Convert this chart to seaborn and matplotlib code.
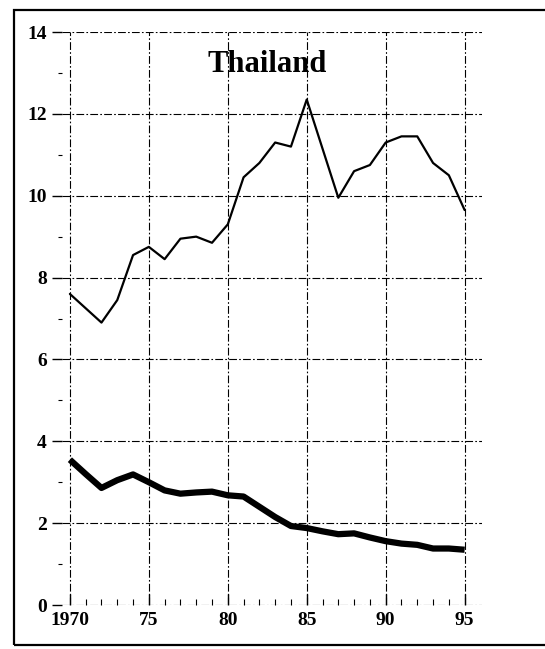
import matplotlib
matplotlib.use("Agg")
import matplotlib.pyplot as plt
import pandas as pd
import seaborn as sns
from matplotlib.patches import Rectangle
from matplotlib.ticker import MultipleLocator, FixedLocator

# data
years = list(range(1970, 1996))
thin_series = [7.6, 7.25, 6.9, 7.45, 8.55, 8.75, 8.45, 8.95, 9.0, 8.85, 9.3, 10.45, 10.8,
               11.3, 11.2, 12.35, 11.15, 9.95, 10.6, 10.75, 11.3, 11.45, 11.45, 10.8, 10.5, 9.65]
thick_series = [3.55, 3.2, 2.86, 3.05, 3.19, 3.0, 2.8, 2.72, 2.75, 2.77, 2.68, 2.65, 2.4,
                2.15, 1.93, 1.88, 1.8, 1.73, 1.75, 1.65, 1.56, 1.5, 1.47, 1.38, 1.38, 1.35]
x_ticks = [1970, 1975, 1980, 1985, 1990, 1995]
x_labels = ["1970", "75", "80", "85", "90", "95"]
y_ticks = [0, 2, 4, 6, 8, 10, 12, 14]
title = "Thailand"

df = pd.DataFrame({"year": years, "thin": thin_series, "thick": thick_series})

sns.set_style("white", {"text.color": "black", "xtick.color": "black", "ytick.color": "black",
                        "xtick.bottom": True, "ytick.left": True})
plt.rcParams["font.family"] = ["Liberation Serif", "DejaVu Serif"]

W, H = 545, 649
fig = plt.figure(figsize=(W / 100, H / 100), dpi=100)
ax = fig.add_axes([62 / W, (H - 605) / H, 420 / W, 573 / H])

# outer frame of the scanned figure
fig.patches.append(Rectangle((14 / W, 4 / H), 1.0, (645 - 10) / H, transform=fig.transFigure,
                             fill=False, edgecolor="black", linewidth=1.6, clip_on=False))

grid_style = dict(color="black", linewidth=0.8, linestyle=(0, (7, 2, 1.5, 2)))
for y in y_ticks:
    ax.axhline(y, zorder=1, **grid_style)
for x in x_ticks:
    ax.axvline(x, zorder=1, **grid_style)

sns.lineplot(data=df, x="year", y="thin", color="black", linewidth=1.6, ax=ax, zorder=3)
sns.lineplot(data=df, x="year", y="thick", color="black", linewidth=4.5, ax=ax, zorder=3,
             solid_capstyle="butt")

ax.set_xlim(1969.5, 1996.1)
ax.set_ylim(0, 14)
for s in ax.spines.values():
    s.set_visible(False)

ax.set_xticks(x_ticks)
ax.set_xticklabels(x_labels, fontsize=14, fontweight="bold")
ax.xaxis.set_minor_locator(FixedLocator(years))
ax.tick_params(axis="x", which="both", bottom=True, colors="black")
ax.tick_params(axis="x", which="major", direction="in", length=8, width=1, pad=5)
ax.tick_params(axis="x", which="minor", direction="in", length=4, width=0.8)

ax.set_yticks(y_ticks)
ax.set_yticklabels([str(v) for v in y_ticks], fontsize=14, fontweight="bold")
ax.yaxis.set_minor_locator(MultipleLocator(1))
ax.tick_params(axis="y", which="both", left=True, colors="black")
ax.tick_params(axis="y", which="major", direction="out", length=7, width=1, pad=4)
ax.tick_params(axis="y", which="minor", direction="out", length=3, width=0.8)

ax.set_xlabel("")
ax.set_ylabel("")

ax.text(1982.5, 13.2, title, ha="center", va="center", fontsize=22, fontweight="bold",
        color="black")

fig.savefig("out.png", dpi=100)
